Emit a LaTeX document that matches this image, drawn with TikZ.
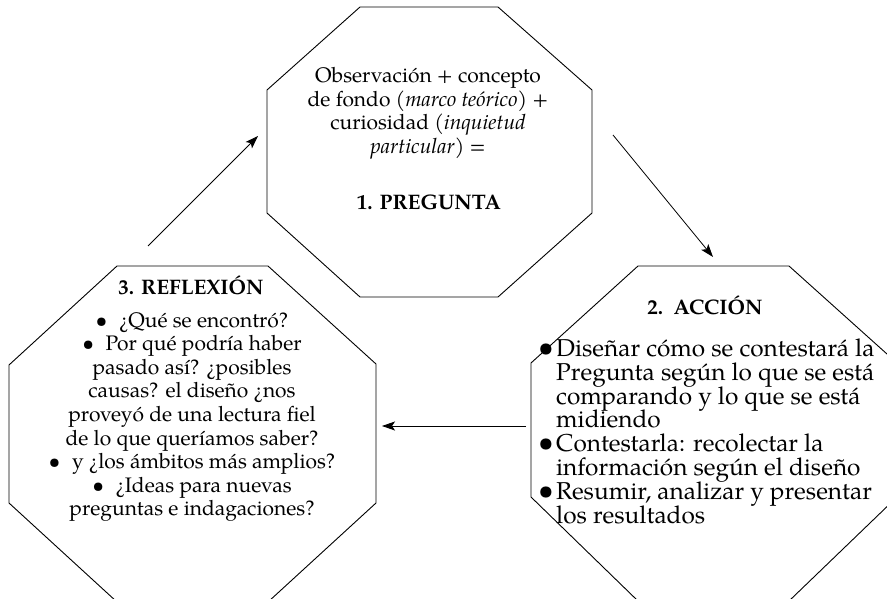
\documentclass[tikz,border=0pt]{standalone}
\usepackage{fontspec}
\setmainfont{TeX Gyre Pagella}
\usetikzlibrary{arrows.meta}
\setlength{\lineskiplimit}{-20pt}
\newcommand{\lbul}{\textbullet\hspace{0.55em}}
\tikzset{
  octa/.style={draw=black, line width=0.9pt, line join=miter},
  link/.style={draw=black, line width=0.8pt, -{Stealth[length=13pt,width=9pt,inset=3pt]}},
  smalltext/.style={inner sep=0pt, align=center, font=\fontsize{21}{23.6}\selectfont},
  bigtext/.style={inner sep=0pt, font=\fontsize{24.4}{23.9}\selectfont},
  bulletmark/.style={inner sep=0pt, anchor=center, font=\fontsize{28}{28}\selectfont},
  titletext/.style={inner sep=0pt, font=\fontsize{21}{24}\selectfont\bfseries}
}
\begin{document}
\begin{tikzpicture}[x=1pt,y=-1pt]
\useasboundingbox (0,0) rectangle (887,599);
\clip (0,0) rectangle (887,599);
% octagons
\draw[octa] (360,7) -- (498,7) -- (592,90) -- (592,213) -- (498,297) -- (360,297) -- (267,213) -- (267,90) -- cycle;
\draw[octa] (117,266) -- (268,266) -- (376,364) -- (376,503) -- (268,602) -- (117,602) -- (9,503) -- (9,365) -- cycle;
\draw[octa] (638,266) -- (789,266) -- (897,363) -- (897,497) -- (789,601) -- (638,601) -- (531,497) -- (531,363) -- cycle;
% top text
\node[smalltext, anchor=north] (pregtext) at (428,67) {Observación + concepto\\
de fondo \textit{(marco teórico)} +\\
curiosidad \textit{(inquietud}\\
\textit{particular)} =};
\node[titletext, anchor=base] (pregtitle) at (429,210) {1. PREGUNTA};
% left text
\node[titletext, anchor=base] (refltitle) at (191,294) {3. REFLEXIÓN};
\node[smalltext, anchor=north] (refltext) at (192,312) {\lbul¿Qué se encontró?\\
\lbul Por qué podría haber\\
pasado así? ¿posibles\\
causas? el diseño ¿nos\\
proveyó de una lectura fiel\\
de lo que queríamos saber?\\
\lbul y ¿los ámbitos más amplios?\\
\lbul¿Ideas para nuevas\\
preguntas e indagaciones?};
% right text
\node[titletext, anchor=base] (acctitle) at (705,314) {2.\ \ ACCIÓN};
\node[bigtext, align=left, anchor=north west] (acctext) at (556,338) {\vrule height 18pt depth 0pt width 0pt Diseñar cómo se contestará la\\
Pregunta según lo que se está\\
comparando y lo que se está\\
midiendo\\
Contestarla: recolectar la\\
información según el diseño\\
Resumir, analizar y presentar\\
los resultados};
\node[bulletmark] (bul1) at (546,350) {\textbullet};
\node[bulletmark] (bul2) at (546,445.6) {\textbullet};
\node[bulletmark] (bul3) at (546,493.4) {\textbullet};
% arrows
\coordinate (a1s) at (148,246);
\coordinate (a1e) at (258,136);
\coordinate (a2s) at (613,135);
\coordinate (a2e) at (713,257);
\coordinate (a3s) at (526,426);
\coordinate (a3e) at (382,426);
\draw[link] (a1s) -- (a1e);
\draw[link] (a2s) -- (a2e);
\draw[link] (a3s) -- (a3e);
\end{tikzpicture}
\end{document}
